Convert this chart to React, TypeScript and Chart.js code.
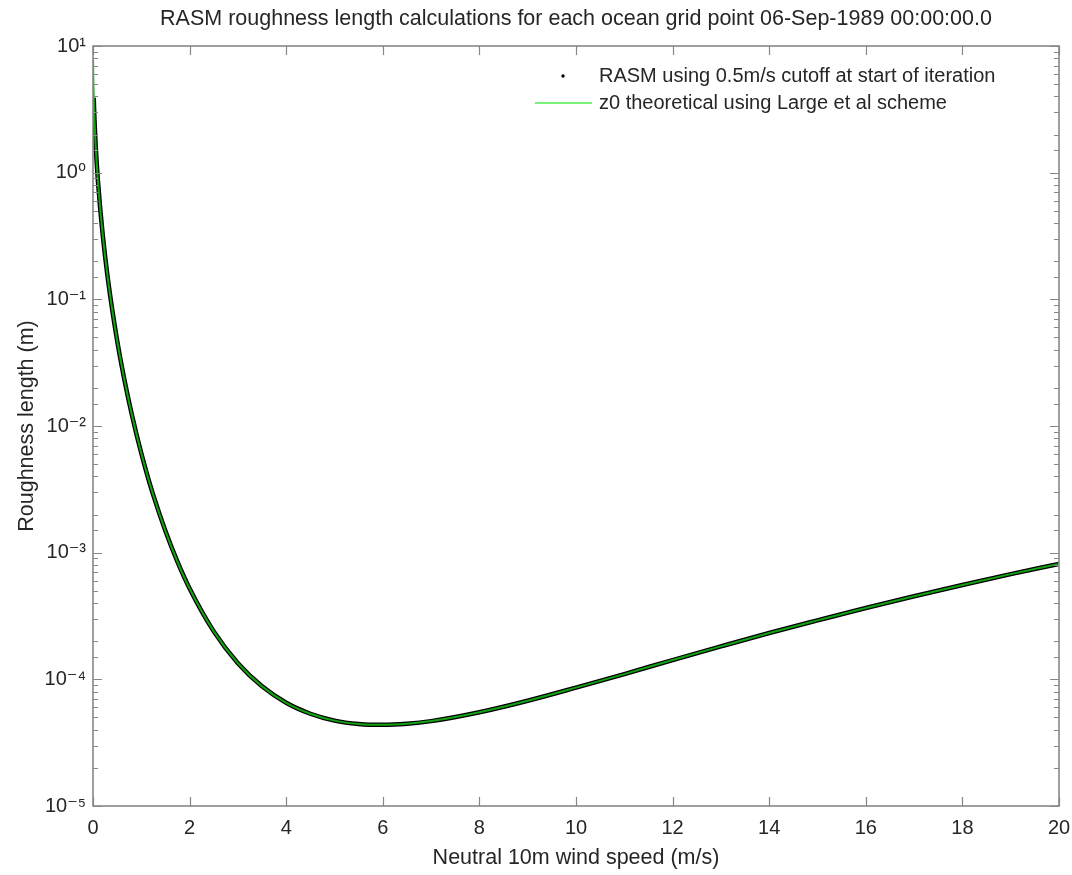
import React, { useEffect, useRef } from "react";
import { Chart, registerables } from "chart.js";

Chart.register(...registerables);

// Neutral 10m wind speed (m/s) for the RASM points
const windSpeed = [
  0.015, 0.02, 0.03, 0.05, 0.075, 0.1, 0.15, 0.2, 0.25, 0.3, 0.4, 0.5, 0.6, 0.7, 0.8, 0.9,
  1.0, 1.1, 1.25, 1.5, 1.75, 2, 2.5, 3, 3.5, 4, 4.5, 5, 5.5, 6, 6.5, 7, 8, 9, 10, 11, 12,
  13, 14, 15, 16, 17, 18, 19, 20,
];
// RASM roughness length (m)
const rasmZ0 = [
  3.9, 3.37, 2.64, 1.79, 1.22, 0.883, 0.514, 0.326, 0.219, 0.153, 0.0817, 0.0473, 0.029,
  0.0187, 0.0125, 0.0086, 0.00609, 0.00441, 0.00283, 0.00148, 0.000844, 0.000521, 0.000239,
  0.000134, 0.000088, 0.0000653, 0.0000535, 0.0000472, 0.0000444, 0.0000437, 0.0000446,
  0.0000468, 0.000055, 0.0000678, 0.000086, 0.00011, 0.000142, 0.000182, 0.000232, 0.000292,
  0.000366, 0.000453, 0.000556, 0.000677, 0.000815,
];
// extra low-wind points of the theoretical curve (it reaches the top of the axes)
const theoryLowSpeed = [0.001, 0.005, 0.01];
const theoryLowZ0 = [7.84, 5.8, 4.63];

const xTicks = [0, 2, 4, 6, 8, 10, 12, 14, 16, 18, 20];
const yDecadeLabels: Record<string, string> = {
  "1": "10¹",
  "0": "10⁰",
  "-1": "10⁻¹",
  "-2": "10⁻²",
  "-3": "10⁻³",
  "-4": "10⁻⁴",
  "-5": "10⁻⁵",
};

const titleText = "RASM roughness length calculations for each ocean grid point 06-Sep-1989 00:00:00.0";
const xTitle = "Neutral 10m wind speed (m/s)";
const yTitle = "Roughness length (m)";
const legendLabels = [
  "RASM using 0.5m/s cutoff at start of iteration",
  "z0 theoretical using Large et al scheme",
];

const FONT = "'Liberation Sans', Arial, 'DejaVu Sans', sans-serif";
const TEXT = "#262626";
const AXIS = "#878787";

const boxPlugin = {
  id: "matlabBox",
  afterDraw(chart: any) {
    const { ctx, chartArea } = chart;
    const { left, right, top, bottom } = chartArea;
    const xs = chart.scales.x;
    const ys = chart.scales.y;
    ctx.save();
    ctx.strokeStyle = AXIS;
    ctx.lineWidth = 1.2;
    ctx.beginPath();
    xs.ticks.forEach((t: any) => {
      const px = Math.round(xs.getPixelForValue(t.value)) + 0.5;
      ctx.moveTo(px, bottom);
      ctx.lineTo(px, bottom - 9);
      ctx.moveTo(px, top);
      ctx.lineTo(px, top + 9);
    });
    ys.ticks.forEach((t: any) => {
      const lg = Math.log10(t.value);
      const major = Math.abs(lg - Math.round(lg)) < 1e-9;
      const len = major ? 9 : 5;
      const py = Math.round(ys.getPixelForValue(t.value)) + 0.5;
      ctx.moveTo(left, py);
      ctx.lineTo(left + len, py);
      ctx.moveTo(right, py);
      ctx.lineTo(right - len, py);
    });
    ctx.stroke();
    ctx.lineWidth = 1.6;
    ctx.strokeRect(left, top, right - left, bottom - top);

    // title, centred over the axes
    ctx.fillStyle = TEXT;
    ctx.textBaseline = "middle";
    ctx.textAlign = "center";
    ctx.font = `21.5px ${FONT}`;
    ctx.fillText(titleText, (left + right) / 2, 19);

    // legend (inside the axes, top right)
    ctx.font = `20px ${FONT}`;
    ctx.textAlign = "left";
    const tx = right - 460;
    const y1 = top + 30;
    const y2 = top + 57;
    ctx.fillStyle = "#000";
    ctx.beginPath();
    ctx.arc(tx - 36, y1, 1.7, 0, Math.PI * 2);
    ctx.fill();
    ctx.strokeStyle = "#79f279";
    ctx.lineWidth = 2;
    ctx.beginPath();
    ctx.moveTo(tx - 64, y2);
    ctx.lineTo(tx - 7, y2);
    ctx.stroke();
    ctx.fillStyle = TEXT;
    ctx.fillText(legendLabels[0], tx, y1);
    ctx.fillText(legendLabels[1], tx, y2);
    ctx.restore();
  },
};

export default function App() {
  const ref = useRef<HTMLCanvasElement | null>(null);
  useEffect(() => {
    if (!ref.current) return;
    const rasmData = windSpeed.map((x, i) => ({ x, y: rasmZ0[i] }));
    const theoryData = theoryLowSpeed
      .map((x, i) => ({ x, y: theoryLowZ0[i] }))
      .concat(rasmData);
    const chart = new Chart(ref.current, {
      type: "line",
      data: {
        datasets: [
          {
            label: legendLabels[0],
            data: rasmData,
            borderColor: "#000000",
            backgroundColor: "#000000",
            borderWidth: 4.5,
            pointRadius: 0,
            cubicInterpolationMode: "monotone",
            order: 1,
          },
          {
            label: legendLabels[1],
            data: theoryData,
            borderColor: "#12a312",
            backgroundColor: "#12a312",
            borderWidth: 2,
            pointRadius: 0,
            cubicInterpolationMode: "monotone",
            order: 0,
          },
        ],
      },
      options: {
        responsive: false,
        maintainAspectRatio: false,
        animation: false,
        devicePixelRatio: 1,
        layout: { padding: { left: 0, right: 13, top: 46, bottom: 0 } },
        plugins: {
          legend: { display: false },
          tooltip: { enabled: false },
          title: { display: false },
        },
        scales: {
          x: {
            type: "linear",
            min: 0,
            max: 20,
            afterBuildTicks: (scale: any) => {
              scale.ticks = xTicks.map((v) => ({ value: v }));
            },
            afterFit: (scale: any) => {
              scale.height = 69;
              scale.paddingRight = 0;
              scale.paddingLeft = 0;
            },
            ticks: {
              color: TEXT,
              font: { family: FONT, size: 20 },
              padding: 10,
              maxRotation: 0,
              autoSkip: false,
            },
            grid: { display: true, drawOnChartArea: false, drawTicks: false },
            border: { display: false },
            title: {
              display: true,
              text: xTitle,
              color: TEXT,
              font: { family: FONT, size: 21.5, lineHeight: 1.2 },
              padding: { top: 0, bottom: 4.1 },
            },
          },
          y: {
            type: "logarithmic",
            min: 1e-5,
            max: 10,
            afterFit: (scale: any) => {
              scale.width = 93;
              scale.paddingTop = 0;
              scale.paddingBottom = 0;
            },
            ticks: {
              color: TEXT,
              font: { family: FONT, size: 20 },
              padding: 7,
              autoSkip: false,
              callback: (value: any) => {
                const lg = Math.log10(Number(value));
                const r = Math.round(lg);
                if (Math.abs(lg - r) < 1e-9) return yDecadeLabels[String(r)] ?? "";
                return "";
              },
            },
            grid: { display: true, drawOnChartArea: false, drawTicks: false },
            border: { display: false },
            title: {
              display: true,
              text: yTitle,
              color: TEXT,
              font: { family: FONT, size: 21.5, lineHeight: 1.2 },
              padding: { top: 14.6, bottom: 0 },
            },
          },
        },
      },
      plugins: [boxPlugin],
    });
    return () => chart.destroy();
  }, []);
  return (
    <div style={{ position: "absolute", left: 0, top: 0, width: 1072, height: 875, background: "#fff" }}>
      <canvas ref={ref} width={1072} height={875} style={{ display: "block" }} />
    </div>
  );
}
